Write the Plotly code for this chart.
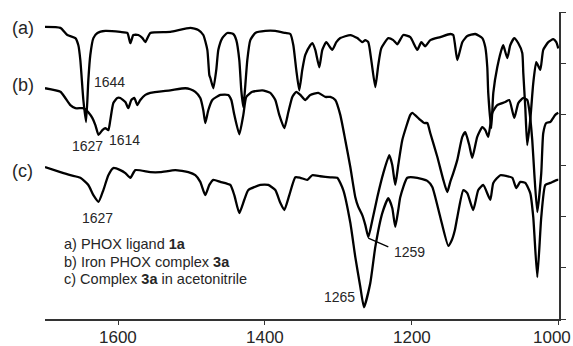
import plotly.graph_objects as go

# ---- data (wavenumber, cm-1 ; offset transmittance, a.u.) ----
wn_a = [1700, 1679, 1669.5, 1658.6, 1654.5, 1651.8, 1647.7, 1644, 1640.9, 1638.2, 1634, 1628.5,
        1617.7, 1597.3, 1587.7, 1583.6, 1579.5, 1572.7, 1567, 1563.2, 1556.4, 1529.1, 1501.8,
        1490.9, 1484.1, 1478.6, 1475.9, 1474.5, 1470.4, 1466.4, 1463.6, 1458.2, 1451.4, 1443.2,
        1439.1, 1435, 1432.3, 1429.5, 1426.8, 1424.1, 1420, 1413.2, 1399.5, 1385.9, 1372.3,
        1365.4, 1361.3, 1357.3, 1353.2, 1349.1, 1345, 1338.2, 1335.5, 1331.4, 1325.9, 1321.8,
        1316.4, 1308.2, 1302.7, 1297.3, 1283.6, 1274.1, 1267.3, 1263.2, 1259.1, 1255, 1249.5,
        1245.5, 1241.4, 1231.8, 1225, 1219.5, 1211.4, 1201.8, 1192.3, 1186.8, 1181.4, 1174.5,
        1160.9, 1147.3, 1143.2, 1137.7, 1130.9, 1124.1, 1113.2, 1103.6, 1099.5, 1096.8, 1095.5,
        1091.4, 1088.6, 1083.2, 1076.4, 1075, 1069.5, 1065.5, 1060, 1054.5, 1049.1, 1047.7,
        1045, 1042.3, 1038.2, 1034.1, 1030, 1024.5, 1020.5, 1013.6, 1006.8, 1002.7, 1000]
t_a = [57.1, 56.9, 55.5, 54.9, 53.5, 50.6, 42.8, 38.5, 46.7, 51.6, 54.9, 55.9,
       56.3, 56.1, 55.9, 53.9, 55.5, 55.5, 54.9, 54.1, 55.9, 56.1, 56.9,
       56.5, 55.5, 52.6, 47.7, 47.1, 45.1, 48.7, 52.6, 54.9, 55.9, 55.7,
       54.5, 50.6, 44.7, 41.4, 45.7, 50.6, 54.5, 55.9, 56.3, 56.3, 55.9,
       55.7, 53.5, 48.7, 44.7, 48.7, 51.6, 53.5, 53.9, 52.6, 49.2, 52.6,
       54.1, 52.6, 54.1, 54.9, 55.5, 54.9, 54.1, 54.5, 54.1, 50.6, 45.3,
       49.6, 52.9, 54.9, 54.5, 53.7, 55.5, 55.1, 52.6, 54.1, 53.3, 54.5,
       55.1, 55.7, 55.5, 50.6, 54.1, 55.3, 55.7, 54.9, 53.1, 49.2, 44.2,
       37.3, 44.2, 49.2, 53.1, 53.5, 51.0, 53.5, 54.9, 53.9, 52.0, 48.1,
       41.4, 34.0, 38.9, 46.1, 50.2, 48.7, 52.6, 54.1, 54.7, 54.1, 52.9]

wn_b = [1700, 1679, 1672.3, 1665.4, 1658.6, 1649, 1645, 1640.9, 1635.5, 1631.3, 1627, 1621.8,
        1617.7, 1613.6, 1610.9, 1606.8, 1601.4, 1597.3, 1590.4, 1586.4, 1582.3, 1578.2, 1574.1,
        1570, 1563.2, 1556.4, 1529.1, 1508.6, 1501.8, 1495, 1488.2, 1484.1, 1481.4, 1477.3,
        1471.8, 1460.9, 1450, 1445.9, 1441.8, 1435, 1429.5, 1425.5, 1417.3, 1403.6, 1392.7,
        1385.9, 1380.5, 1373.6, 1368.2, 1362.7, 1357.3, 1351.8, 1345, 1338.2, 1327.3, 1317.7,
        1310.9, 1304.1, 1297.3, 1290.5, 1283.6, 1276.8, 1272.7, 1267.3, 1263.2, 1259, 1253.6,
        1246.8, 1238.6, 1230.5, 1226.4, 1222.3, 1218.2, 1212.7, 1201.8, 1199.1, 1188.2, 1182.7,
        1178.6, 1174.5, 1165, 1156.8, 1151.4, 1147.3, 1143.2, 1137.7, 1130.9, 1126.8, 1121.4,
        1117.3, 1110.5, 1103.6, 1099.5, 1095.5, 1090, 1083.2, 1072.3, 1066.8, 1060, 1054.5,
        1047.7, 1042.3, 1039.5, 1035.5, 1032.7, 1028.6, 1023.2, 1020.5, 1016.4, 1010.9, 1004.1, 1000]
t_b = [45.1, 44.4, 43.2, 41.8, 41.2, 41.2, 41.0, 40.4, 39.3, 37.9, 36.0, 36.9,
       37.3, 36.9, 38.9, 42.2, 43.2, 43.2, 42.4, 41.2, 42.8, 43.2, 41.8,
       42.8, 43.8, 44.2, 44.7, 45.1, 44.9, 44.4, 43.2, 40.8, 38.3, 40.8,
       42.8, 43.8, 43.8, 42.8, 39.9, 36.1, 39.9, 43.4, 44.4, 44.7, 44.2,
       42.8, 39.9, 37.3, 40.4, 43.4, 44.4, 43.8, 42.8, 43.8, 44.2, 43.4,
       43.4, 42.8, 39.9, 35.0, 29.7, 23.8, 21.9, 20.3, 18.4, 16.0, 19.3,
       23.8, 28.5, 32.0, 30.1, 26.2, 30.1, 35.0, 39.9, 40.3, 38.9, 38.3,
       38.3, 36.3, 31.7, 27.2, 24.8, 26.8, 28.5, 31.1, 35.6, 36.5, 34.0,
       31.5, 35.6, 37.5, 36.9, 35.6, 40.3, 41.8, 42.4, 42.8, 39.3, 42.2,
       43.2, 42.8, 40.8, 35.0, 28.5, 20.9, 28.5, 36.3, 38.3, 38.5, 39.9, 40.3]

wn_c = [1700, 1679, 1665.4, 1651.8, 1640.9, 1634, 1627, 1620.4, 1613.6, 1606.8, 1597.3, 1590.4,
        1583.6, 1576.8, 1556.4, 1542.7, 1522.3, 1504.5, 1495, 1488.2, 1481.4, 1475.9, 1470.4,
        1460.9, 1447.3, 1441.8, 1435, 1428.2, 1422.7, 1406.4, 1395.5, 1385.9, 1379.1, 1373.6,
        1366.8, 1358.6, 1351.8, 1342.3, 1335.5, 1324.5, 1310.9, 1301.4, 1293.2, 1283.6, 1276.8,
        1270, 1265, 1256.4, 1249.5, 1240, 1231.8, 1226.4, 1222.3, 1218.2, 1215.5, 1205.9,
        1192.3, 1178.6, 1171.8, 1160.9, 1150, 1145, 1141, 1137.7, 1129.5, 1124.1, 1116,
        1109.1, 1102.3, 1092.7, 1088.6, 1079.1, 1069.5, 1062.7, 1057.3, 1051.8, 1045, 1038.2,
        1034.1, 1028.6, 1023.2, 1017.7, 1010.9, 1001.4, 1000]
t_c = [29.7, 28.7, 28.1, 27.6, 26.2, 24.2, 22.9, 25.2, 28.1, 29.5, 29.1, 28.5,
       27.6, 29.1, 28.7, 28.7, 29.1, 28.7, 28.1, 26.8, 24.2, 26.2, 27.2,
       26.8, 26.2, 24.2, 20.7, 23.3, 25.2, 26.2, 26.2, 25.2, 22.7, 21.3,
       24.2, 27.7, 27.6, 27.2, 28.1, 27.9, 27.7, 27.6, 25.2, 18.8, 12.1,
       6.3, 2.3, 7.0, 14.1, 20.7, 23.6, 21.7, 18.0, 21.3, 23.8, 27.6,
       27.6, 27.0, 25.8, 19.9, 14.3, 15.5, 17.4, 19.9, 25.2, 24.6, 21.3,
       25.2, 26.2, 23.3, 26.6, 28.1, 27.9, 27.6, 25.6, 26.8, 26.6, 24.6,
       19.9, 8.2, 19.9, 26.2, 26.6, 27.2, 27.2]

x_ticks = [1600, 1400, 1200, 1000]
x_tick_labels = ["1600", "1400", "1200", "1000"]
legend_lines = ["a) PHOX ligand <b>1a</b>",
                "b) Iron PHOX complex <b>3a</b>",
                "c) Complex <b>3a</b> in acetonitrile"]
trace_tags = ["(a)", "(b)", "(c)"]

FONT = "Arial, Liberation Sans, Helvetica, sans-serif"
TXT = "#262626"

fig = go.Figure()
for wn, t in [(wn_a, t_a), (wn_b, t_b), (wn_c, t_c)]:
    fig.add_trace(go.Scatter(x=wn, y=t, mode="lines",
                             line=dict(color="black", width=2.3, shape="spline", smoothing=0.5),
                             showlegend=False, hoverinfo="skip"))

ann = []
def label(x, y, text, size, xanchor="center", xref="x", yref="y", yanchor="middle"):
    ann.append(dict(x=x, y=y, xref=xref, yref=yref, text=text, showarrow=False,
                    xanchor=xanchor, yanchor=yanchor,
                    font=dict(family=FONT, size=size, color=TXT)))

for tag, yv in zip(trace_tags, [56.9, 45.7, 28.9]):
    label(-0.043, yv, tag, 18, xref="paper")
label(1635.5, 46.3, "1644", 14, "left")
label(1642.3, 33.8, "1627", 14)
label(1591.8, 35.0, "1614", 14)
label(1628.6, 19.7, "1627", 14)
label(1226.4, 13.1, "1259", 14, "left")
label(1274.1, 4.3, "1265", 14, "right")
for txt, yv in zip(legend_lines, [14.7, 11.1, 7.8]):
    label(1676.8, yv, txt, 14.5, "left")
# x tick labels (the last one nudged left so it stays inside the page)
for tv, tt in zip(x_ticks, x_tick_labels):
    label(tv + (9 if tv == 1000 else 0), -0.06, tt, 17, yref="paper")

fig.add_shape(type="line", xref="x", yref="y", x0=1259.1, y0=15.8, x1=1231.8, y1=14.1,
              line=dict(color="black", width=1.3))

fig.update_layout(
    width=573, height=346,
    margin=dict(l=45, r=14, t=12, b=27),
    paper_bgcolor="white", plot_bgcolor="white",
    annotations=ann,
    xaxis=dict(range=[1700, 999], tickvals=x_ticks, showticklabels=False,
               ticks="outside", ticklen=4,
               tickcolor="#333", showline=True, linecolor="#333", linewidth=1.5,
               showgrid=False, zeroline=False, automargin=False),
    yaxis=dict(range=[0, 60], dtick=10, side="right", ticks="outside", ticklen=5,
               tickcolor="#333", showline=True, linecolor="#333", linewidth=1.5,
               showticklabels=False, showgrid=False, zeroline=False, automargin=False),
)

fig.write_html("out.html")
